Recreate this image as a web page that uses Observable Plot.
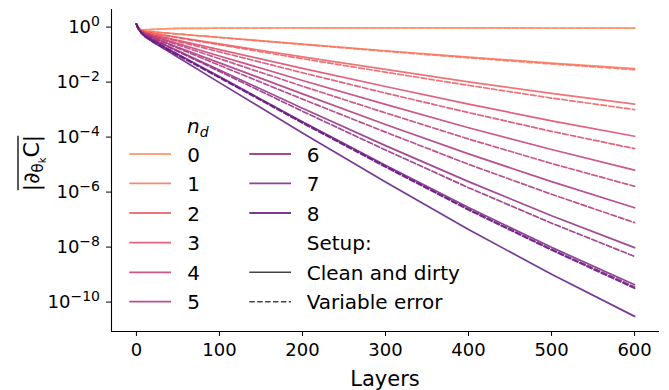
<!DOCTYPE html>
<html><head><meta charset="utf-8">
<script src="https://cdn.jsdelivr.net/npm/d3@7"></script>
<script src="https://cdn.jsdelivr.net/npm/@observablehq/plot@0.6"></script>
<style>
body{margin:0;background:#fff;}
svg{font-family:"DejaVu Sans",sans-serif;}
</style></head><body><div id="chart"></div>
<script>
// x positions (layers) at which values were read
const layers = [0, 1, 3, 6, 10, 20, 50, 100, 200, 300, 400, 500, 600];
// log10 of mean |dC/dtheta_k|, setup "Clean and dirty" (solid)
const clean0 = [0.11, 0.05, -0.05, -0.10, -0.10, -0.08, -0.05, -0.035, -0.03, -0.03, -0.03, -0.033, -0.036];
const clean1 = [0.11, 0.05, -0.06, -0.12, -0.15, -0.17, -0.25, -0.37, -0.62, -0.86, -1.09, -1.31, -1.51];
const clean2 = [0.11, 0.05, -0.06, -0.13, -0.17, -0.23, -0.37, -0.61, -1.08, -1.54, -1.99, -2.41, -2.80];
const clean3 = [0.11, 0.04, -0.07, -0.14, -0.20, -0.28, -0.48, -0.82, -1.50, -2.16, -2.80, -3.41, -3.97];
const clean4 = [0.11, 0.04, -0.07, -0.16, -0.23, -0.33, -0.60, -1.05, -1.94, -2.81, -3.66, -4.45, -5.20];
const clean5 = [0.11, 0.04, -0.08, -0.17, -0.26, -0.38, -0.73, -1.30, -2.43, -3.54, -4.61, -5.62, -6.57];
const clean6 = [0.11, 0.03, -0.08, -0.19, -0.28, -0.44, -0.86, -1.56, -2.95, -4.31, -5.62, -6.86, -8.02];
const clean7 = [0.11, 0.03, -0.09, -0.20, -0.31, -0.49, -0.99, -1.80, -3.44, -5.02, -6.56, -8.01, -9.37];
const clean8 = [0.11, 0.03, -0.09, -0.22, -0.34, -0.54, -1.10, -2.02, -3.85, -5.63, -7.36, -8.99, -10.52];
// setup "Variable error" (dashed)
const variable0 = [0.11, 0.05, -0.05, -0.10, -0.10, -0.08, -0.05, -0.04, -0.03, -0.03, -0.03, -0.04, -0.04];
const variable1 = [0.11, 0.05, -0.06, -0.12, -0.15, -0.18, -0.25, -0.38, -0.63, -0.88, -1.12, -1.34, -1.55];
const variable2 = [0.11, 0.05, -0.06, -0.13, -0.17, -0.23, -0.39, -0.64, -1.15, -1.64, -2.12, -2.58, -3.00];
const variable3 = [0.11, 0.04, -0.07, -0.14, -0.20, -0.29, -0.52, -0.90, -1.66, -2.40, -3.11, -3.79, -4.42];
const variable4 = [0.11, 0.04, -0.07, -0.16, -0.23, -0.34, -0.65, -1.15, -2.15, -3.12, -4.07, -4.96, -5.79];
const variable5 = [0.11, 0.04, -0.08, -0.17, -0.26, -0.39, -0.77, -1.39, -2.62, -3.82, -4.99, -6.08, -7.11];
const variable6 = [0.11, 0.03, -0.08, -0.19, -0.28, -0.44, -0.89, -1.61, -3.06, -4.47, -5.84, -7.13, -8.34];
const variable7 = [0.11, 0.03, -0.09, -0.20, -0.31, -0.49, -1.00, -1.82, -3.46, -5.06, -6.62, -8.08, -9.45];
const variable8 = [0.11, 0.03, -0.09, -0.22, -0.34, -0.54, -1.03, -1.84, -3.49, -5.09, -6.65, -8.11, -9.50];

const ndLabels = ["0", "1", "2", "3", "4", "5", "6", "7", "8"];
const setupLabels = ["Clean and dirty", "Variable error"];
const xTicks = [0, 100, 200, 300, 400, 500, 600];
const yTicks = [1e0, 1e-2, 1e-4, 1e-6, 1e-8, 1e-10];

const cleanSeries = [clean0, clean1, clean2, clean3, clean4, clean5, clean6, clean7, clean8];
const variableSeries = [variable0, variable1, variable2, variable3, variable4, variable5, variable6, variable7, variable8];

function toRows(series, setup) {
  const out = [];
  series.forEach((arr, k) => arr.forEach((v, i) => out.push({layer: layers[i], value: 10 ** v, nd: ndLabels[k], setup})));
  return out;
}
const cleanRows = toRows(cleanSeries, setupLabels[0]);
const variableRows = toRows(variableSeries, setupLabels[1]);

const palette = ndLabels.map((_, k) => d3.interpolateMagma(0.77 - 0.06 * k));
const LINE_OPACITY = 0.85;

const W = 669, H = 390, ML = 111, MR = 10, MT = 9, MB = 59;
const xDom = [-30, 630];
const yDom = [10 ** -11.07, 10 ** 0.64];

const plot = Plot.plot({
  width: W, height: H,
  marginLeft: ML, marginRight: MR, marginTop: MT, marginBottom: MB,
  style: {fontFamily: "DejaVu Sans", fontSize: "18px", background: "white", color: "black", overflow: "visible"},
  x: {domain: xDom, ticks: xTicks, label: null, tickSize: 5, tickPadding: 7},
  y: {type: "log", domain: yDom, ticks: yTicks, label: null, tickSize: 5, tickFormat: () => ""},
  color: {type: "ordinal", domain: ndLabels, range: palette},
  marks: [
    Plot.line(cleanRows, {x: "layer", y: "value", z: "nd", stroke: "nd", strokeWidth: 1.7, strokeOpacity: LINE_OPACITY}),
    Plot.line(variableRows, {x: "layer", y: "value", z: "nd", stroke: "nd", strokeWidth: 1.7, strokeOpacity: LINE_OPACITY, strokeDasharray: "5.5,2.4"}),
    Plot.ruleX([xDom[0]], {stroke: "black", strokeWidth: 1.1}),
    Plot.ruleY([yDom[0]], {stroke: "black", strokeWidth: 1.1})
  ]
});
document.getElementById("chart").appendChild(plot);

const svg = d3.select(plot);
const yScale = plot.scale("y");

// y tick labels 10^n with raised exponent, positioned by the plot's y scale
const ytl = svg.append("g").attr("fill", "black").attr("font-size", "18px");
yTicks.forEach(v => {
  const e = Math.round(Math.log10(v));
  const txt = ytl.append("text")
    .attr("x", ML - 11).attr("y", yScale.apply(v)).attr("dy", "0.36em")
    .style("text-anchor", "end");
  txt.append("tspan").text("10");
  txt.append("tspan").attr("dy", "-0.5em").attr("font-size", "14px").text(String(e).replace("-", "\u2212"));
});

// x axis label
svg.append("text").attr("x", (ML + W - MR) / 2).attr("y", 386)
  .style("text-anchor", "middle").attr("font-size", "21px").attr("fill", "black").text("Layers");

// y axis label: overline |∂_{θ_k} C|
const yl = svg.append("g").attr("transform", "translate(39,163) rotate(-90)");
const ylt = yl.append("text").style("text-anchor", "middle").attr("font-size", "22px").attr("fill", "black");
ylt.append("tspan").text("|\u2202");
ylt.append("tspan").attr("font-size", "15px").attr("dy", "4").text("\u03b8");
ylt.append("tspan").attr("font-size", "10px").attr("dy", "3").text("k");
ylt.append("tspan").attr("font-size", "22px").attr("dy", "-7").text("C|");
const bb = ylt.node().getBBox();
yl.append("line").attr("x1", bb.x + 1).attr("x2", bb.x + bb.width - 1)
  .attr("y1", bb.y - 1).attr("y2", bb.y - 1).attr("stroke", "black").attr("stroke-width", 1.3);

// legend
const lg = svg.append("g").attr("font-size", "20px").attr("fill", "black").style("text-anchor", "start");
const rowY = [154, 183.3, 213, 242.7, 272.3, 301.7];
const t = lg.append("text").attr("x", 187).attr("y", 133).attr("font-style", "italic");
t.append("tspan").text("n");
t.append("tspan").attr("font-size", "14px").attr("dy", "4").text("d");
ndLabels.forEach((lab, k) => {
  const col = k < 6 ? 0 : 1;
  const r = k < 6 ? k : k - 6;
  const x0 = col === 0 ? 129.3 : 249.3;
  const xt = col === 0 ? 187.3 : 306.7;
  lg.append("line").attr("x1", x0).attr("x2", x0 + 41.7).attr("y1", rowY[r]).attr("y2", rowY[r])
    .attr("stroke", palette[k]).attr("stroke-width", 1.8).attr("stroke-opacity", LINE_OPACITY);
  lg.append("text").attr("x", xt).attr("y", rowY[r] + 7.5).text(lab);
});
lg.append("text").attr("x", 306.7).attr("y", rowY[3] + 7.5).text("Setup:");
setupLabels.forEach((lab, i) => {
  const y = rowY[4 + i];
  lg.append("line").attr("x1", 249.3).attr("x2", 291).attr("y1", y).attr("y2", y)
    .attr("stroke", "#444").attr("stroke-width", 1.6)
    .attr("stroke-dasharray", i === 1 ? "5.5,2.4" : null);
  lg.append("text").attr("x", 306.7).attr("y", y + 7.5).text(lab);
});
</script></body></html>
